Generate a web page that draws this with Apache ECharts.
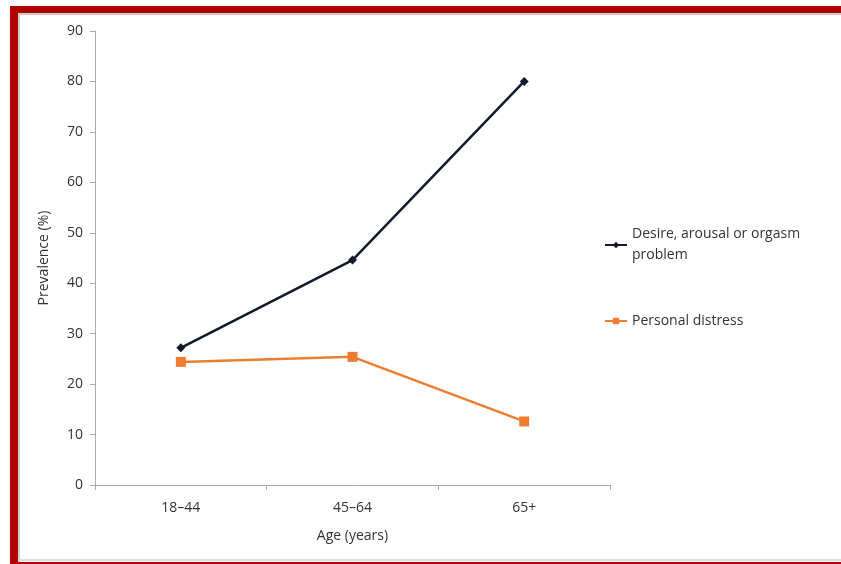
<!DOCTYPE html>
<html>
<head>
<meta charset="utf-8">
<script src="https://cdn.jsdelivr.net/npm/echarts@6/dist/echarts.min.js"></script>
<style>
html,body{margin:0;padding:0;background:#fff;}
#c{width:841px;height:564px;}
</style>
</head>
<body>
<div id="c"></div>
<script>
var categories = ['18\u201344', '45\u201364', '65+'];
var desireValues = [27.2, 44.6, 80.0];
var distressValues = [24.4, 25.4, 12.6];
var desireName = 'Desire, arousal or orgasm\nproblem';
var distressName = 'Personal distress';

var chart = echarts.init(document.getElementById('c'));
var font = "'Open Sans', 'Liberation Sans', sans-serif";
chart.setOption({
  animation: false,
  backgroundColor: '#fff',
  textStyle: { fontFamily: font },
  graphic: [
    { type: 'rect', shape: { x: 10, y: 6, width: 831, height: 7 }, style: { fill: '#b00000' } },
    { type: 'rect', shape: { x: 10, y: 6, width: 8, height: 558 }, style: { fill: '#b00000' } },
    { type: 'rect', shape: { x: 10, y: 562, width: 831, height: 2 }, style: { fill: '#b00000' } },
    { type: 'rect', shape: { x: 18, y: 13, width: 823, height: 2 }, style: { fill: '#cccccc' } },
    { type: 'rect', shape: { x: 18, y: 13, width: 2, height: 549 }, style: { fill: '#cccccc' } },
    { type: 'rect', shape: { x: 18, y: 559, width: 823, height: 2 }, style: { fill: '#dddddd' } }
  ],
  grid: { left: 95, right: 231, top: 31, bottom: 79, containLabel: false },
  legend: [
    {
      data: [desireName], orient: 'vertical', left: 599, top: 219,
      itemWidth: 22, itemHeight: 8, itemGap: 10,
      textStyle: { fontSize: 14, color: '#333', fontFamily: font, lineHeight: 21 }
    },
    {
      data: [distressName], orient: 'vertical', left: 599, top: 309,
      itemWidth: 22, itemHeight: 8,
      textStyle: { fontSize: 14, color: '#333', fontFamily: font }
    }
  ],
  xAxis: {
    type: 'category',
    data: categories,
    boundaryGap: true,
    name: 'Age (years)',
    nameLocation: 'middle',
    nameGap: 44,
    nameTextStyle: { fontSize: 14, color: '#333' },
    axisLine: { lineStyle: { color: '#aaa', width: 1 } },
    axisTick: { show: true, length: 5, lineStyle: { color: '#aaa' } },
    axisLabel: { fontSize: 14, color: '#333', margin: 16 },
    splitLine: { show: false }
  },
  yAxis: {
    type: 'value',
    min: 0, max: 90, interval: 10,
    name: 'Prevalence (%)',
    nameLocation: 'middle',
    nameGap: 44,
    nameTextStyle: { fontSize: 14, color: '#333' },
    axisLine: { show: true, lineStyle: { color: '#aaa', width: 1 } },
    axisTick: { show: true, length: 5, lineStyle: { color: '#aaa' } },
    axisLabel: { fontSize: 14, color: '#333', margin: 12 },
    splitLine: { show: false }
  },
  series: [
    {
      name: desireName, type: 'line', data: desireValues,
      symbol: 'diamond', symbolSize: 9,
      lineStyle: { color: '#111a2b', width: 2.5 },
      itemStyle: { color: '#111a2b' }
    },
    {
      name: distressName, type: 'line', data: distressValues,
      symbol: 'rect', symbolSize: 10,
      lineStyle: { color: '#ed7d31', width: 2.5 },
      itemStyle: { color: '#ed7d31' }
    }
  ]
});
</script>
</body>
</html>
